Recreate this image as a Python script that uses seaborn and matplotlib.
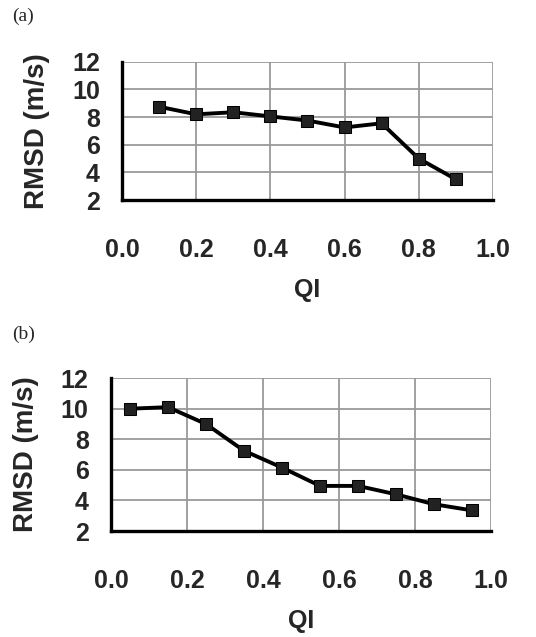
import numpy as np
import pandas as pd
import seaborn as sns
import matplotlib.pyplot as plt

# ---- data ----
qi_a = [0.1, 0.2, 0.3, 0.4, 0.5, 0.6, 0.7, 0.8, 0.9]
rmsd_a = [8.75, 8.2, 8.35, 8.05, 7.75, 7.25, 7.55, 5.0, 3.5]

qi_b = [0.05, 0.15, 0.25, 0.35, 0.45, 0.55, 0.65, 0.75, 0.85, 0.95]
rmsd_b = [10.0, 10.1, 9.0, 7.25, 6.15, 4.95, 4.95, 4.4, 3.75, 3.35]

x_ticks = [0.0, 0.2, 0.4, 0.6, 0.8, 1.0]
y_ticks = [2, 4, 6, 8, 10, 12]
panel_labels = ["(a)", "(b)"]

sns.set_style("white")
plt.rcParams["font.family"] = ["Liberation Sans", "DejaVu Sans"]
plt.rcParams["font.weight"] = "bold"

fig = plt.figure(figsize=(5.36, 6.37), dpi=100)
ax_a = fig.add_axes([0.2276, 0.686, 0.692, 0.217])
ax_b = fig.add_axes([0.207, 0.1664, 0.709, 0.240])


def draw_panel(ax, qi, rmsd):
    df = pd.DataFrame({"QI": qi, "RMSD": rmsd})
    sns.lineplot(data=df, x="QI", y="RMSD", ax=ax, color="black",
                 linewidth=2.8, marker="s", markersize=8,
                 markeredgecolor="black", markerfacecolor="#222222")
    ax.set_xlim(0, 1)
    ax.set_ylim(2, 12)
    ax.set_xticks(x_ticks)
    ax.set_yticks(y_ticks)
    ax.set_xticklabels([f"{v:.1f}" for v in x_ticks])
    ax.set_yticklabels([str(v) for v in y_ticks])
    ax.grid(True, color="#9a9a9a", linewidth=1.3)
    ax.set_axisbelow(True)
    for s in ["top", "right"]:
        ax.spines[s].set_visible(False)
    for s in ["left", "bottom"]:
        ax.spines[s].set_color("black")
        ax.spines[s].set_linewidth(2.4)
    ax.tick_params(axis="both", which="major", direction="out", length=7,
                   width=2.4, color="black", labelsize=18)
    ax.tick_params(axis="x", pad=20)
    ax.tick_params(axis="y", pad=9)
    ax.set_xlabel("QI", fontsize=18, fontweight="bold", labelpad=12)
    ax.set_ylabel("RMSD (m/s)", fontsize=20, fontweight="bold", labelpad=16)
    for lab in ax.get_xticklabels() + ax.get_yticklabels():
        lab.set_fontweight("bold")


draw_panel(ax_a, qi_a, rmsd_a)
draw_panel(ax_b, qi_b, rmsd_b)

fig.text(0.022, 0.975, panel_labels[0], family="Liberation Serif",
         fontsize=14, fontweight="normal", va="center", ha="left")
fig.text(0.022, 0.475, panel_labels[1], family="Liberation Serif",
         fontsize=14, fontweight="normal", va="center", ha="left")

fig.savefig("out.png", dpi=100)
